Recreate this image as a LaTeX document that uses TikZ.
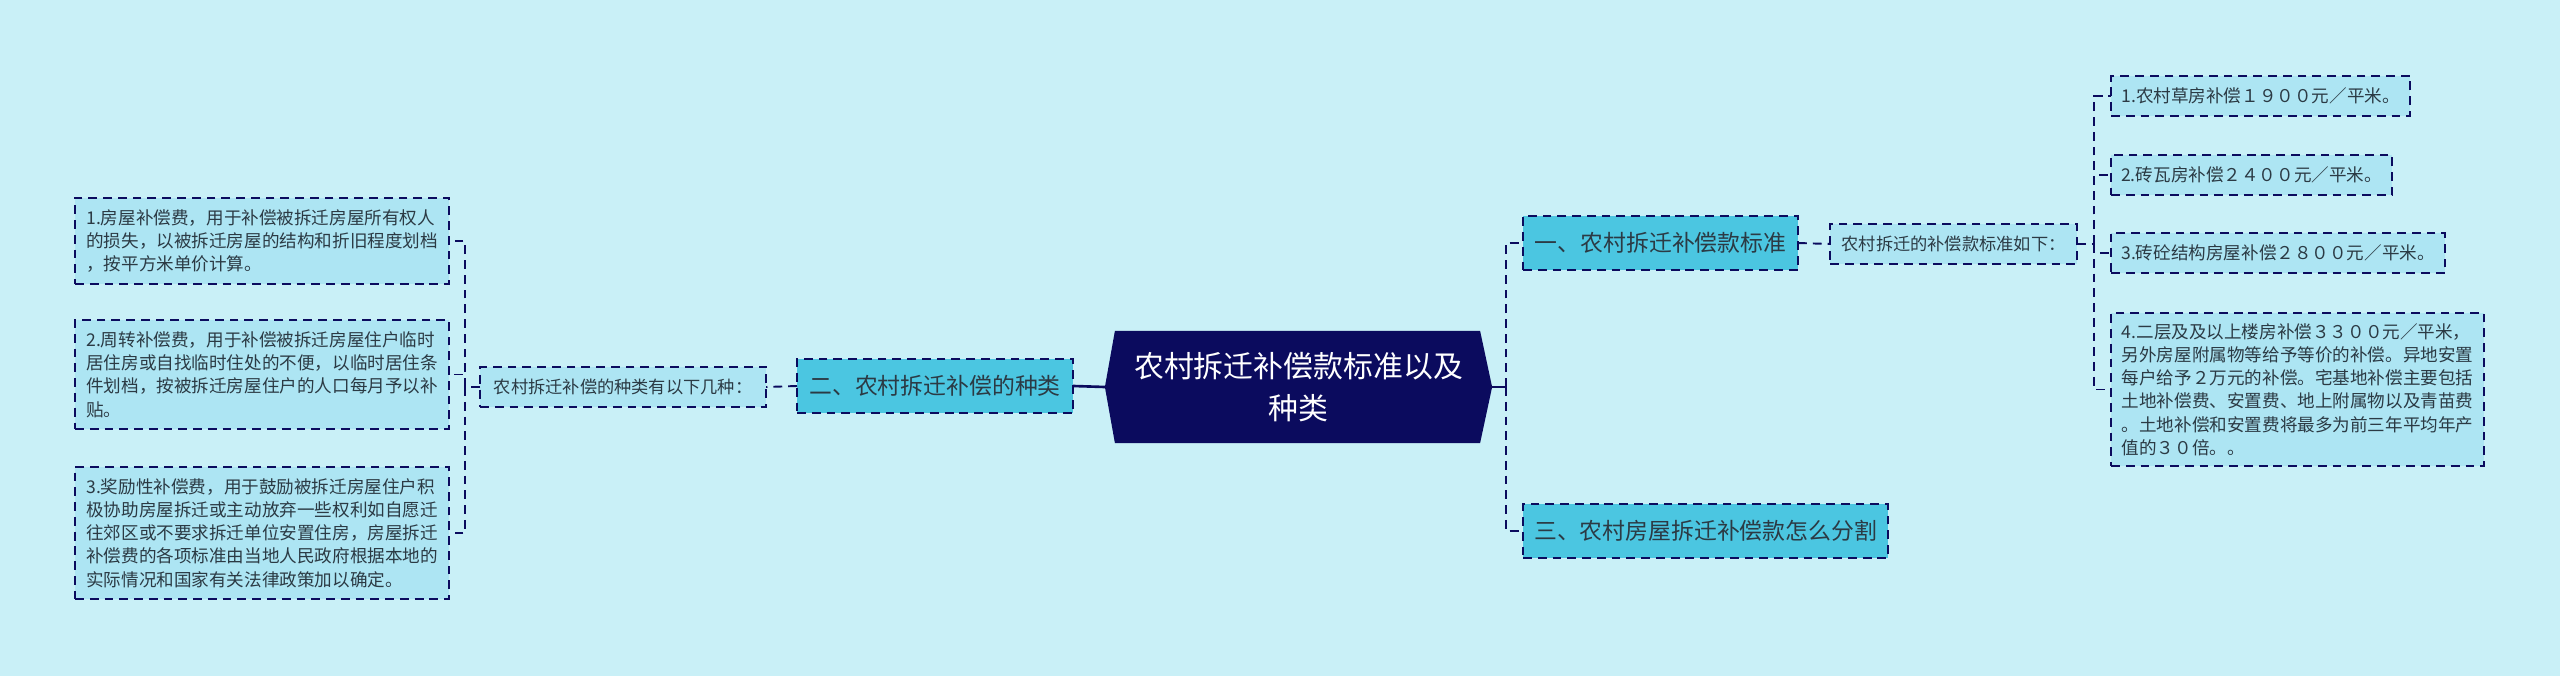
\documentclass[tikz,border=0pt]{standalone}
\usepackage{fontspec}
\setmainfont{Noto Sans CJK SC}
\usepackage{xcolor}
\usetikzlibrary{backgrounds}

\definecolor{bgcyan}{HTML}{C9F0F7}
\definecolor{navy}{HTML}{0B0B5E}
\definecolor{topicfill}{HTML}{4BC6E1}
\definecolor{leaffill}{HTML}{ADE5F3}
\definecolor{inktext}{HTML}{2B3A44}

\begin{document}
\begin{tikzpicture}[
  x=0.01cm, y=-0.01cm,
  every node/.style={inner sep=0.1cm, outer sep=0pt},
  rootbox/.style={minimum width=3.87cm, minimum height=1.12cm, text=white, align=center, font=\fontsize{8.5}{11.9}\selectfont},
  topicbox/.style={draw=navy, dash pattern=on 2.5pt off 1.7pt, line width=0.55pt, fill=topicfill, text=inktext, minimum height=0.54cm, font=\fontsize{6.5}{7}\selectfont},
  notebox/.style={draw=navy, dash pattern=on 2.5pt off 1.7pt, line width=0.55pt, fill=leaffill, text=inktext, minimum height=0.4cm, font=\fontsize{4.9}{6}\selectfont},
  leafbox/.style={draw=navy, dash pattern=on 2.5pt off 1.7pt, line width=0.55pt, fill=leaffill, text=inktext, align=left, font=\fontsize{5}{6.6}\selectfont},
  conn/.style={draw=navy, dash pattern=on 2.5pt off 1.7pt, line width=0.55pt},
  trunk/.style={draw=navy, line width=0.75pt}
]
\useasboundingbox (0,0) rectangle (2560,676);

% centre
\node[rootbox] (root) at (1298.5,387) {农村拆迁补偿款标准以及\\种类};

% left branch
\node[topicbox, minimum width=2.76cm, anchor=west] (t2) at (797,386) {二、农村拆迁补偿的种类};
\node[notebox, minimum width=2.86cm, anchor=west] (kinds) at (480,387) {农村拆迁补偿的种类有以下几种：};
\node[leafbox, minimum width=3.74cm, minimum height=0.86cm, anchor=west] (f1) at (75,241)
  {1.房屋补偿费，用于补偿被拆迁房屋所有权人\\的损失，以被拆迁房屋的结构和折旧程度划档\\，按平方米单价计算。};
\node[leafbox, minimum width=3.74cm, minimum height=1.09cm, anchor=west] (f2) at (75,374.5)
  {2.周转补偿费，用于补偿被拆迁房屋住户临时\\居住房或自找临时住处的不便，以临时居住条\\件划档，按被拆迁房屋住户的人口每月予以补\\贴。};
\node[leafbox, minimum width=3.74cm, minimum height=1.32cm, anchor=west] (f3) at (75,533)
  {3.奖励性补偿费，用于鼓励被拆迁房屋住户积\\极协助房屋拆迁或主动放弃一些权利如自愿迁\\往郊区或不要求拆迁单位安置住房，房屋拆迁\\补偿费的各项标准由当地人民政府根据本地的\\实际情况和国家有关法律政策加以确定。};

% right branch
\node[topicbox, minimum width=2.75cm, anchor=west] (t1) at (1523,243) {一、农村拆迁补偿款标准};
\node[topicbox, minimum width=3.65cm, anchor=west] (t3) at (1523,531) {三、农村房屋拆迁补偿款怎么分割};
\node[notebox, minimum width=2.47cm, anchor=west] (std) at (1830,244) {农村拆迁的补偿款标准如下：};
\node[leafbox, minimum width=2.99cm, minimum height=0.4cm, anchor=west] (s1) at (2111,96) {1.农村草房补偿１９００元／平米。};
\node[leafbox, minimum width=2.81cm, minimum height=0.4cm, anchor=west] (s2) at (2111,175) {2.砖瓦房补偿２４００元／平米。};
\node[leafbox, minimum width=3.34cm, minimum height=0.4cm, anchor=west] (s3) at (2111,253) {3.砖砼结构房屋补偿２８００元／平米。};
\node[leafbox, minimum width=3.73cm, minimum height=1.53cm, anchor=west] (s4) at (2111,389.5)
  {4.二层及及以上楼房补偿３３００元／平米，\\另外房屋附属物等给予等价的补偿。异地安置\\每户给予２万元的补偿。宅基地补偿主要包括\\土地补偿费、安置费、地上附属物以及青苗费\\。土地补偿和安置费将最多为前三年平均年产\\值的３０倍。。};

% connectors
\coordinate (lj) at (465,387);
\coordinate (rj) at (1506,387);
\coordinate (sj) at (2094,244);
\draw[trunk] (root.west) -- (t2.east);
\draw[conn] (t2.west) -- (kinds.east);
\draw[conn] (kinds.west) -- (lj);
\foreach \n in {f1,f2,f3}
  \draw[conn] (lj) |- (\n.east);
\draw[trunk] (root.east) -- (rj);
\draw[conn] (rj) |- (t1.west);
\draw[conn] (rj) |- (t3.west);
\draw[conn] (t1.east) -- (std.west);
\draw[conn] (std.east) -- (sj);
\foreach \n in {s1,s2,s3,s4}
  \draw[conn] (sj) |- (\n.west);

\begin{scope}[on background layer]
  \fill[bgcyan] (0,0) rectangle (2560,676);
  \fill[navy] ([xshift=0.1cm]root.north west) -- ([xshift=-0.12cm]root.north east) -- (root.east)
    -- ([xshift=-0.12cm]root.south east) -- ([xshift=0.1cm]root.south west) -- (root.west) -- cycle;
\end{scope}
\end{tikzpicture}
\end{document}
